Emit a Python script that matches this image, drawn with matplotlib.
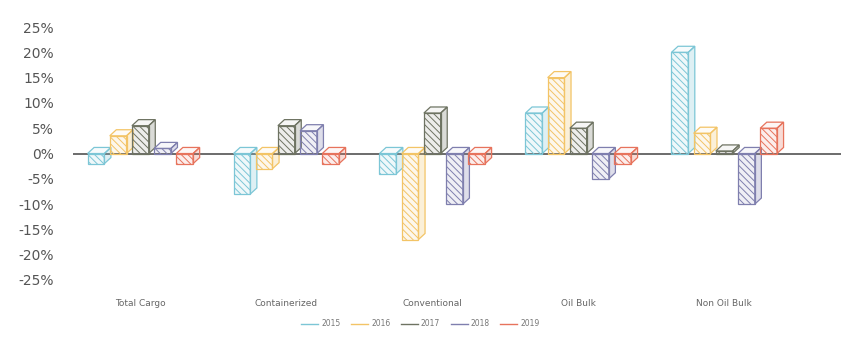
import matplotlib.pyplot as plt
from matplotlib.patches import Polygon, Rectangle
from matplotlib.lines import Line2D
from matplotlib.colors import to_rgba

plt.rcParams['hatch.linewidth'] = 0.7

categories = ['Total Cargo', 'Containerized', 'Conventional', 'Oil Bulk', 'Non Oil Bulk']
years = ['2015', '2016', '2017', '2018', '2019']
growth_2015 = [-2, -8, -4, 8, 20]
growth_2016 = [3.5, -3, -17, 15, 4]
growth_2017 = [5.5, 5.5, 8, 5, 0.5]
growth_2018 = [1, 4.5, -10, -5, -10]
growth_2019 = [-2, -2, -2, -2, 5]
y_ticks = [-25, -20, -15, -10, -5, 0, 5, 10, 15, 20, 25]

series = [growth_2015, growth_2016, growth_2017, growth_2018, growth_2019]
colors = ['#7cc6d6', '#f3c466', '#6e7362', '#7f7fae', '#e7735c']

BAR_W = 0.115
STEP = 0.152
DX = 0.045
DY = 1.2


def draw_box(ax, x0, value, color):
    x1 = x0 + BAR_W
    top = max(value, 0)
    bottom = min(value, 0)
    # front face, hatched
    ax.add_patch(Rectangle((x0, bottom), BAR_W, top - bottom,
                           facecolor=to_rgba(color, 0.12), edgecolor=color,
                           hatch='\\\\\\\\\\', lw=0.9, zorder=3))
    # side face
    ax.add_patch(Polygon([(x1, bottom), (x1 + DX, bottom + DY),
                          (x1 + DX, top + DY), (x1, top)],
                         facecolor=to_rgba(color, 0.25), edgecolor=color,
                         lw=0.9, zorder=3))
    # top face
    ax.add_patch(Polygon([(x0, top), (x1, top), (x1 + DX, top + DY),
                          (x0 + DX, top + DY)],
                         facecolor=to_rgba(color, 0.06), edgecolor=color,
                         lw=0.9, zorder=3))


fig = plt.figure(figsize=(8.41, 3.56), dpi=100)
ax = fig.add_axes([0.087, 0.2135, 0.913, 0.7105])

for i, cat in enumerate(categories):
    for j, vals in enumerate(series):
        x0 = i + (j - 2) * STEP - BAR_W / 2
        draw_box(ax, x0, vals[i], colors[j])

ax.axhline(0, color='#444444', lw=1.1, zorder=2)

ax.set_xlim(-0.46, 4.80)
ax.set_ylim(-25, 25)
ax.set_yticks(y_ticks)
ax.set_yticklabels([f'{t}%' for t in y_ticks])
ax.set_xticks(range(len(categories)))
ax.set_xticklabels(categories)
ax.tick_params(axis='y', length=0, pad=14, labelsize=10, labelcolor='#555555')
ax.tick_params(axis='x', length=0, pad=14, labelsize=6.5, labelcolor='#666666')
for s in ax.spines.values():
    s.set_visible(False)

handles = [Line2D([0], [0], color=c, lw=1) for c in colors]
fig.legend(handles, years, loc='center', bbox_to_anchor=(0.5, 0.09), ncol=5,
           frameon=False, fontsize=5.5, handlelength=2.2, handletextpad=0.4,
           columnspacing=1.4, labelcolor='#777777')

fig.savefig('out.png', dpi=100)
